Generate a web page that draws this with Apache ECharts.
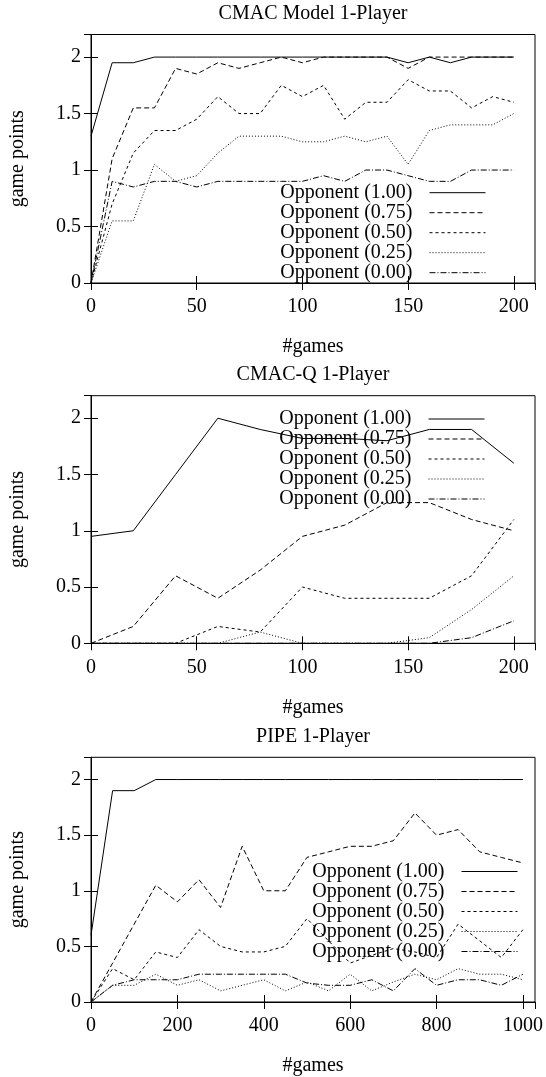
<!DOCTYPE html>
<html><head><meta charset="utf-8">
<script src="https://cdn.jsdelivr.net/npm/echarts@6/dist/echarts.min.js"></script>
<style>html,body{margin:0;padding:0;background:#fff}#c{width:546px;height:1077px}</style>
</head><body><div id="c"></div>
<script>
// ---- data ----
const SERIES_NAMES = ['Opponent (1.00)', 'Opponent (0.75)', 'Opponent (0.50)', 'Opponent (0.25)', 'Opponent (0.00)'];
const TITLES = ['CMAC Model 1-Player', 'CMAC-Q 1-Player', 'PIPE 1-Player'];
const X_NAME = '#games';
const Y_NAME = 'game points';

const games1 = [0,10,20,30,40,50,60,70,80,90,100,110,120,130,140,150,160,170,180,190,200];
const cmacModel_100 = [1.3,1.95,1.95,2,2,2,2,2,2,2,2,2,2,2,2,1.95,2,1.95,2,2,2];
const cmacModel_075 = [0,1.1,1.55,1.55,1.9,1.85,1.95,1.9,1.95,2,1.95,2,2,2,2,1.9,2,2,2,2,2];
const cmacModel_050 = [0,0.7,1.15,1.35,1.35,1.45,1.65,1.5,1.5,1.75,1.65,1.75,1.45,1.6,1.6,1.8,1.7,1.7,1.55,1.65,1.6];
const cmacModel_025 = [0,0.55,0.55,1.05,0.9,0.95,1.15,1.3,1.3,1.3,1.25,1.25,1.3,1.25,1.3,1.05,1.35,1.4,1.4,1.4,1.5];
const cmacModel_000 = [0,0.9,0.85,0.9,0.9,0.85,0.9,0.9,0.9,0.9,0.9,0.95,0.9,1.0,1.0,0.95,0.9,0.9,1.0,1.0,1.0];

const games2 = [0,20,40,60,80,100,120,140,160,180,200];
const cmacQ_100 = [0.95,1.0,1.5,2.0,1.9,1.82,1.82,1.8,1.9,1.9,1.6];
const cmacQ_075 = [0,0.15,0.6,0.4,0.65,0.95,1.05,1.25,1.25,1.1,1.0];
const cmacQ_050 = [0,0,0,0.15,0.1,0.5,0.4,0.4,0.4,0.6,1.1];
const cmacQ_025 = [0,0,0,0,0.1,0,0,0,0.05,0.3,0.6];
const cmacQ_000 = [0,0,0,0,0,0,0,0,0,0.05,0.2];

const games3 = [0,50,100,150,200,250,300,350,400,450,500,550,600,650,700,750,800,850,900,950,1000];
const pipe_100 = [0.6,1.9,1.9,2,2,2,2,2,2,2,2,2,2,2,2,2,2,2,2,2,2];
const pipe_075 = [0,0.35,0.7,1.05,0.9,1.1,0.85,1.4,1.0,1.0,1.3,1.35,1.4,1.4,1.45,1.7,1.5,1.55,1.35,1.3,1.25];
const pipe_050 = [0,0.3,0.2,0.45,0.4,0.65,0.5,0.45,0.45,0.5,0.75,0.55,0.35,0.42,0.48,0.45,0.4,0.7,0.55,0.4,0.65];
const pipe_025 = [0,0.15,0.15,0.25,0.15,0.2,0.1,0.15,0.2,0.1,0.18,0.1,0.25,0.1,0.18,0.25,0.2,0.3,0.25,0.25,0.2];
const pipe_000 = [0,0.15,0.2,0.2,0.2,0.25,0.25,0.25,0.25,0.25,0.17,0.15,0.15,0.2,0.1,0.3,0.15,0.2,0.2,0.15,0.25];

// ---- styling / layout ----
const FONT = 'Liberation Serif';
const FS = 20;
const DASHES = ['solid', [5,3], [3,3], [1,2], [6,2,1,2]];

const panels = [
  { title: TITLES[0], x: games1, ys: [cmacModel_100, cmacModel_075, cmacModel_050, cmacModel_025, cmacModel_000],
    top: 34.5, height: 248.5, xmax: 210, xint: 50, legTop: 182.7, legRight: 60 },
  { title: TITLES[1], x: games2, ys: [cmacQ_100, cmacQ_075, cmacQ_050, cmacQ_025, cmacQ_000],
    top: 395.7, height: 247.6, xmax: 210, xint: 50, legTop: 409, legRight: 61 },
  { title: TITLES[2], x: games3, ys: [pipe_100, pipe_075, pipe_050, pipe_025, pipe_000],
    top: 757.3, height: 248.4, xmax: 1028, xint: 200, legTop: 861.5, legRight: 28 }
];

const LEFT = 91, WIDTH = 444;
const txt = { fontFamily: FONT, fontSize: FS, color: '#000' };

const option = { animation: false, backgroundColor: '#fff', title: [], grid: [], xAxis: [], yAxis: [], series: [], legend: [] };

panels.forEach((p, g) => {
  option.title.push({ text: p.title, left: LEFT + WIDTH / 2, textAlign: 'center', top: p.top - 32, padding: 0,
    textStyle: Object.assign({ fontWeight: 'normal', lineHeight: 22 }, txt) });
  option.grid.push({ left: LEFT, top: p.top, width: WIDTH, height: p.height, show: true,
    borderColor: '#000', borderWidth: 1, backgroundColor: 'transparent' });
  const axLine = { show: true, lineStyle: { color: '#000', width: 1 } };
  const tick = { show: true, inside: true, length: 7, lineStyle: { color: '#000', width: 1 } };
  option.xAxis.push({ type: 'value', gridIndex: g, min: 0, max: p.xmax, interval: p.xint, position: 'bottom',
    axisLine: axLine, axisTick: tick, splitLine: { show: false },
    axisLabel: Object.assign({ margin: 14, showMaxLabel: false, formatter: v => String(v) }, txt),
    name: X_NAME, nameLocation: 'middle', nameGap: 54, nameTextStyle: txt });
  option.xAxis.push({ type: 'value', gridIndex: g, min: 0, max: p.xmax, interval: p.xint, position: 'top',
    axisLine: axLine, axisTick: tick, splitLine: { show: false }, axisLabel: { show: false } });
  option.yAxis.push({ type: 'value', gridIndex: g, min: 0, max: 2.2, interval: 0.5, position: 'left',
    axisLine: axLine, axisTick: tick, splitLine: { show: false },
    axisLabel: Object.assign({ margin: 10, showMaxLabel: false, formatter: v => String(v) }, txt),
    name: Y_NAME, nameLocation: 'middle', nameRotate: 90, nameGap: 63, nameTextStyle: txt });
  option.yAxis.push({ type: 'value', gridIndex: g, min: 0, max: 2.2, interval: 0.5, position: 'right',
    axisLine: axLine, axisTick: tick, splitLine: { show: false }, axisLabel: { show: false } });
  p.ys.forEach((vals, i) => {
    option.series.push({
      type: 'line', name: SERIES_NAMES[i], xAxisIndex: 2 * g, yAxisIndex: 2 * g,
      data: p.x.map((xv, k) => [xv, vals[k]]),
      symbol: 'none', showSymbol: false, silent: true,
      itemStyle: { color: '#000' },
      lineStyle: { color: '#000', width: 1, type: DASHES[i] }, z: 3
    });
  });
  option.legend.push({
    data: SERIES_NAMES, orient: 'vertical', align: 'right', right: p.legRight, top: p.legTop,
    itemWidth: 56, itemHeight: 14, itemGap: 0, padding: 0, selectedMode: false,
    itemStyle: { opacity: 0 }, lineStyle: { width: 1, color: '#000' },
    textStyle: Object.assign({ padding: [0, 12, 0, 0], lineHeight: 20 }, txt)
  });
});

const chart = echarts.init(document.getElementById('c'), null, { renderer: 'canvas' });
chart.setOption(option);
</script></body></html>
